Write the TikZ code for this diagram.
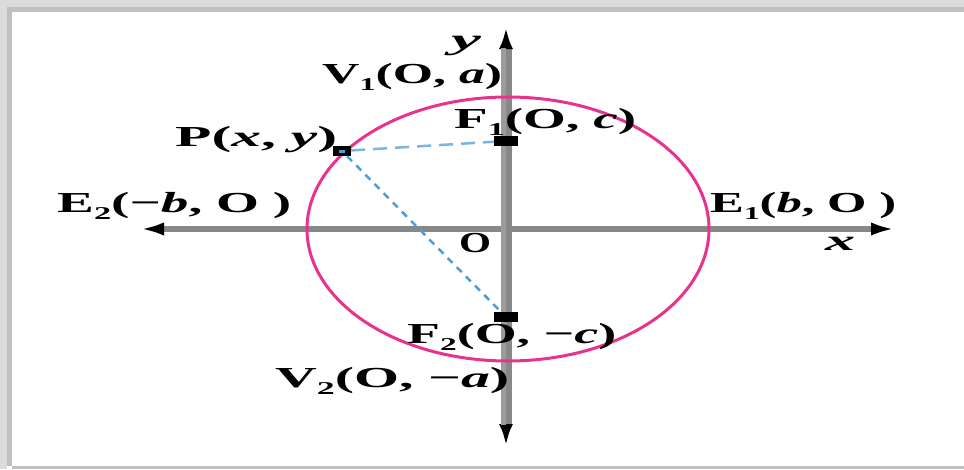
\documentclass[tikz,border=0pt]{standalone}
\usepackage{fontspec}
\setmainfont{Liberation Serif}
\usepackage{graphicx}
\usetikzlibrary{arrows.meta}
\definecolor{axisgray}{RGB}{136,136,136}
\definecolor{axislight}{RGB}{156,156,156}
\definecolor{ellpink}{RGB}{232,50,140}
\definecolor{dashblue}{RGB}{120,180,228}
\definecolor{dotblue}{RGB}{80,156,214}
\definecolor{framea}{RGB}{220,220,220}
\definecolor{frameb}{RGB}{192,192,192}
\newcommand{\lbsub}[1]{\raisebox{-7pt}{\fontsize{18}{18}\selectfont #1}}
\newcommand{\fitw}[2]{\resizebox{#1pt}{\height}{#2}}
\begin{document}
\begin{tikzpicture}[x=1pt,y=-1pt,
  lbl/.style={anchor=base west,inner sep=0pt,font=\fontsize{29}{30}\selectfont\bfseries,text=black},
  clbl/.style={anchor=center,inner sep=0pt,font=\fontsize{29}{30}\selectfont\bfseries,text=black},
  axisx/.style={draw=axisgray,line width=6pt,{Latex[length=26pt,width=13pt,color=black]}-{Latex[length=26pt,width=13pt,color=black]}},
  axisy/.style={draw=axisgray,line width=11pt,{Latex[length=22pt,width=14pt,color=black]}-{Latex[length=22pt,width=14pt,color=black]}},
  ell/.style={draw=ellpink,line width=3pt},
  ptbox/.style={fill=black,inner sep=0pt,minimum width=#1,minimum height=10pt},
  dashln/.style={draw=dashblue,line width=2.5pt,dash pattern=on 14pt off 8pt},
  dotln/.style={draw=dotblue,line width=2.5pt,dash pattern=on 7pt off 6pt}
]
\useasboundingbox (0,0) rectangle (964,469);
% frame shadow
\fill[framea] (0,0) rectangle (964,7);
\fill[framea] (0,0) rectangle (7,469);
\fill[frameb] (7,7) rectangle (964,12);
\fill[frameb] (7,7) rectangle (12,466);
\fill[frameb] (12,466) rectangle (964,469);
% axes
\coordinate (xl) at (138,229);
\coordinate (xr) at (897,229);
\coordinate (yt) at (506,27);
\coordinate (yb) at (506,446);
\draw[axisx] (xl) -- (xr);
\draw[axisy] (yb) -- (yt);
\draw[draw=axislight,line width=5pt] (503,48) -- (503,425);
% ellipse
\draw[ell] (508,229) ellipse [x radius=201, y radius=132];
% points
\node[ptbox=18pt] (P) at (342,151) {};
\node[fill=dotblue,inner sep=0pt,minimum width=6pt,minimum height=3pt] (Pin) at (342,151) {};
\node[ptbox=24pt] (F1) at (506,141) {};
\node[ptbox=24pt] (F2) at (506,317) {};
% focal lines
\draw[dashln] (P) -- (F1);
\draw[dotln] (P) -- (F2);
% labels
\node[clbl] (ylab) at (466,46) {\fitw{30}{\textit{y}}};
\node[lbl] (V1) at (322,83) {\fitw{180}{V\lbsub{1}(O, \textit{a})}};
\node[lbl] (F1l) at (454,128) {\fitw{182}{F\lbsub{1}(O, \textit{c})}};
\node[lbl] (Pl) at (175,146) {\fitw{162}{P(\textit{x}, \textit{y})}};
\node[lbl] (E2) at (57,212) {\fitw{234}{E\lbsub{2}(−\textit{b}, O )}};
\node[lbl] (E1) at (710,212) {\fitw{186}{E\lbsub{1}(\textit{b}, O )}};
\node[clbl] (Ol) at (475,243) {\fitw{32}{O}};
\node[clbl] (xlab) at (840,244) {\fitw{30}{\textit{x}}};
\node[lbl] (F2l) at (407,343) {\fitw{209}{F\lbsub{2}(O, −\textit{c})}};
\node[lbl] (V2) at (275,387) {\fitw{234}{V\lbsub{2}(O, −\textit{a})}};
\end{tikzpicture}
\end{document}
